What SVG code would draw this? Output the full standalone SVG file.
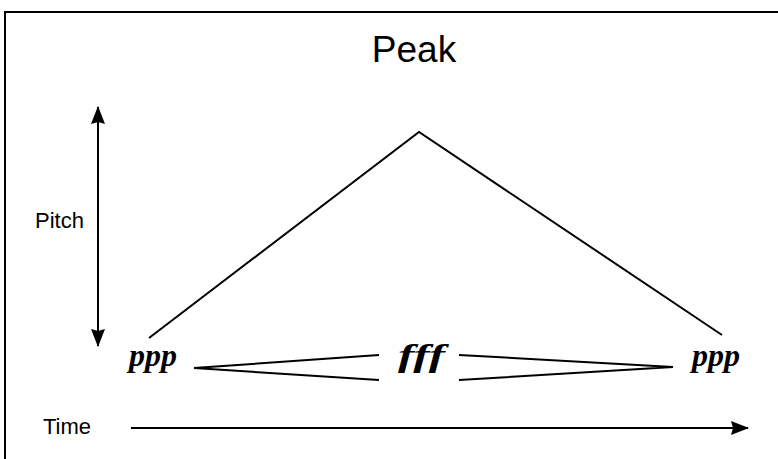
<svg xmlns="http://www.w3.org/2000/svg" width="778" height="459" viewBox="0 0 778 459">
<defs>
<marker id="ah2" viewBox="0 0 18 14" refX="17" refY="7" markerWidth="18" markerHeight="14" markerUnits="userSpaceOnUse" orient="auto-start-reverse">
<path d="M0,0 L18,7 L0,14 L2,7 Z" fill="#000"/>
</marker>
</defs>
<style>
.sans{font-family:"Liberation Sans",Arial,sans-serif;fill:#000}
.dyn{font-family:"Liberation Serif","Times New Roman",serif;font-style:italic;font-weight:bold;font-size:32px;fill:#000}
.ln{stroke:#000;stroke-width:2;fill:none}
</style>
<rect x="0" y="0" width="778" height="459" fill="#fff"/>
<path d="M5,470 L5,12 L790,12" class="ln" stroke-width="2.5"/>
<g id="title"><text class="sans" x="414" y="62" font-size="37" text-anchor="middle">Peak</text></g>
<g id="pitch-label"><text class="sans" x="35" y="228" font-size="22">Pitch</text></g>
<g id="time-label"><text class="sans" x="43" y="434" font-size="22">Time</text></g>
<g id="ppp-left"><text class="dyn" x="129" y="366">ppp</text></g>
<g id="fff"><text class="dyn" x="398" y="366" textLength="47" lengthAdjust="spacingAndGlyphs">fff</text></g>
<g id="ppp-right"><text class="dyn" x="692" y="366">ppp</text></g>
<g id="connectors">
<polyline class="ln" points="149,338 419,132 722,335" stroke-width="1.8"/>
<line class="ln" x1="98" y1="107" x2="98" y2="346" marker-start="url(#ah2)" marker-end="url(#ah2)"/>
<line class="ln" x1="131" y1="428" x2="748" y2="428" marker-end="url(#ah2)"/>
<polyline class="ln" points="379,355 194,368 379,380"/>
<polyline class="ln" points="459,355 673,367 459,380"/>
</g>
</svg>
